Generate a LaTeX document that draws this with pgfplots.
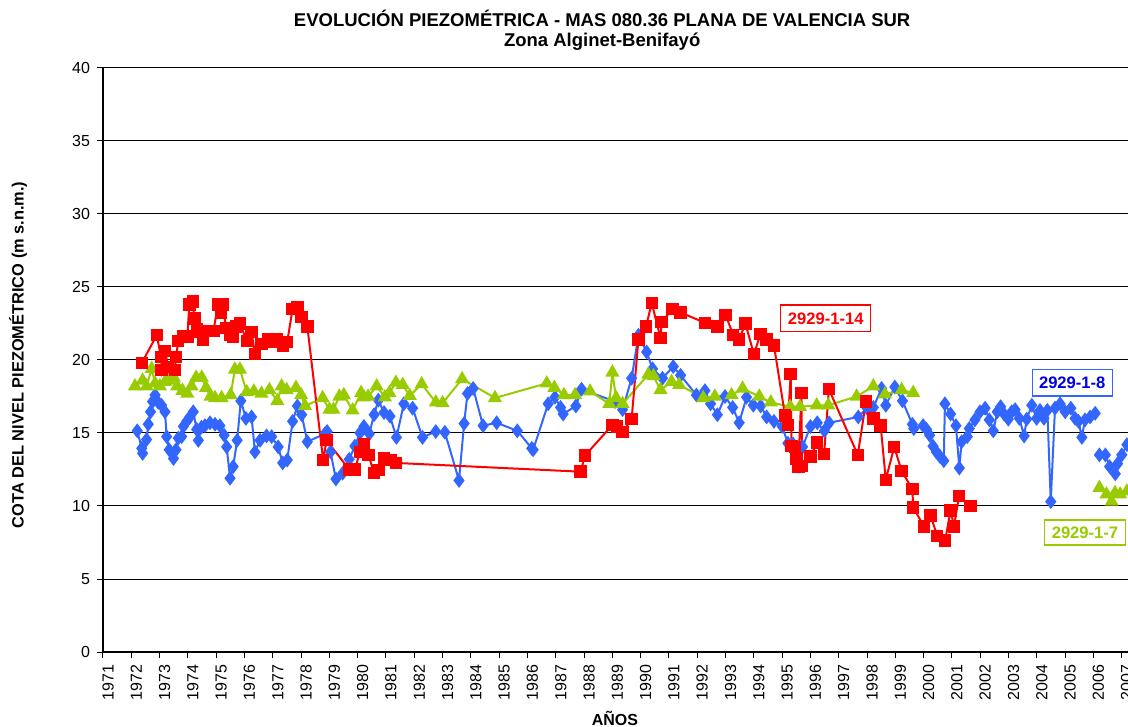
\documentclass[border=0pt]{standalone}
\usepackage{fontspec}
\setmainfont{Liberation Sans}
\usepackage{pgfplots}
\pgfplotsset{compat=1.18}
\usetikzlibrary{calc}
\definecolor{pzred}{RGB}{255,0,0}
\definecolor{pzblue}{RGB}{51,102,255}
\definecolor{pzgreen}{RGB}{153,204,0}
\definecolor{pzdblue}{RGB}{0,0,230}

\begin{document}
\begin{tikzpicture}
\begin{axis}[
  name=ax,
  scale only axis,
  width=512.5pt, height=292pt,
  xmin=1971, xmax=2007.22,
  ymin=0, ymax=40,
  axis lines=left,
  axis line style={-, line width=0.6pt},
  xtick={1971,...,2007},
  ytick={0,5,...,40},
  ymajorgrids,
  grid style={black, line width=0.5pt},
  tick align=outside,
  major tick length=3pt,
  tick style={black, line width=0.5pt},
  xticklabel style={rotate=90, anchor=east, yshift=-2.5pt, font=\fontsize{8}{9}\selectfont},
  yticklabel style={font=\fontsize{8}{9}\selectfont},
  /pgf/number format/1000 sep={},
  /pgf/number format/assume math mode=true,
  xlabel={AÑOS},
  xlabel style={at={(axis description cs:0.4995,-0.113)}, anchor=center, font=\bfseries\fontsize{8}{9}\selectfont},
  ylabel={COTA DEL NIVEL PIEZOMÉTRICO (m s.n.m.)},
  ylabel style={at={(axis description cs:-0.0829,0.5086)}, anchor=center, rotate=0, font=\bfseries\fontsize{8.2}{9}\selectfont},
  unbounded coords=jump,
  clip=true,
]
% 2929-1-8
\addplot[pzblue, line width=1pt, mark=diamond*, mark size=2.9pt, mark options={solid, fill=pzblue, draw=pzblue}] coordinates {
(1972.21,15.15)(1972.37,13.95)(1972.40,13.6)(1972.54,14.55)(1972.60,15.6)(1972.68,16.45)(1972.75,17.15)(1972.84,17.6)(1972.95,17.1)(1973.07,16.9)(1973.19,16.45)(1973.25,14.75)(1973.34,13.85)(1973.49,13.25)(1973.58,13.85)(1973.66,14.65)(1973.78,14.75)(1973.84,15.45)(1973.96,15.8)(1974.07,16.1)(1974.19,16.45)(1974.31,15.25)(1974.37,14.5)(1974.48,15.4)(1974.60,15.5)(1974.78,15.7)(1974.96,15.6)(1975.13,15.5)(1975.28,14.85)(1975.37,14.05)(1975.49,11.9)(1975.60,12.7)(1975.74,14.5)(1975.87,17.2)(1976.05,16.0)(1976.25,16.1)(1976.37,13.7)(1976.55,14.5)(1976.78,14.8)(1976.96,14.75)(1977.19,14.05)(1977.35,12.95)(1977.51,13.15)(1977.70,15.8)(1977.87,16.85)(1978.02,16.25)(1978.22,14.4)(1978.84,14.95)(1978.92,15.1)(1979.04,13.7)(1979.23,11.85)(1979.47,12.25)(1979.70,13.2)(1979.90,14.1)(1980.08,15.0)(1980.22,15.45)(1980.41,14.95)(1980.58,16.25)(1980.73,17.25)(1980.93,16.4)(1981.14,16.15)(1981.37,14.7)(1981.63,17.0)(1981.94,16.7)(1982.29,14.7)(1982.76,15.1)(1983.08,15.05)(1983.58,11.75)(1983.76,15.65)(1983.88,17.7)(1984.08,18.05)(1984.43,15.5)(1984.91,15.7)(1985.64,15.15)(1986.15,13.95)(1986.20,13.85)(1986.73,17.0)(1986.97,17.45)(1987.17,16.75)(1987.26,16.3)(1987.71,16.85)(1987.91,18.0)(1989.09,17.15)(1989.36,16.6)(1989.68,18.75)(1989.92,21.7)(1990.21,20.55)(1990.42,19.4)(1990.77,18.75)(1991.15,19.55)(1991.41,18.95)(1991.97,17.6)(1992.27,17.9)(1992.47,17.0)(1992.71,16.25)(1992.98,17.5)(1993.25,16.75)(1993.48,15.7)(1993.74,17.45)(1993.98,16.9)(1994.24,16.85)(1994.45,16.1)(1994.71,15.8)(1995.00,15.45)(1995.20,14.3)(1995.38,14.25)(1995.56,13.85)(1995.72,14.05)(1996.00,15.45)(1996.24,15.7)(1996.49,15.15)(1996.66,15.7)(1997.69,16.1)(1998.00,16.7)(1998.22,16.75)(1998.51,18.05)(1998.66,16.9)(1998.98,18.15)(1999.25,17.2)(1999.60,15.6)(1999.65,15.3)(1999.98,15.5)(2000.10,15.25)(2000.21,14.85)(2000.33,14.1)(2000.45,13.7)(2000.57,13.4)(2000.71,13.1)(2000.75,17.0)(2000.95,16.3)(2001.14,15.5)(2001.26,12.6)(2001.34,14.4)(2001.54,14.75)(2001.61,15.3)(2001.81,15.9)(2001.99,16.45)(2002.17,16.7)(2002.32,15.9)(2002.46,15.15)(2002.60,16.45)(2002.72,16.8)(2002.84,16.3)(2002.99,15.95)(2003.11,16.45)(2003.23,16.6)(2003.38,16.0)(2003.55,14.8)(2003.64,15.95)(2003.82,16.9)(2003.99,16.0)(2004.11,16.55)(2004.25,16.0)(2004.37,16.55)(2004.49,10.3)(2004.64,16.7)(2004.82,17.0)(2005.00,16.45)(2005.20,16.7)(2005.35,16.0)(2005.47,15.8)(2005.59,14.7)(2005.70,15.9)(2005.88,16.1)(2006.06,16.35)(2006.13,nan)(2006.21,13.5)(2006.42,13.5)(2006.57,12.7)(2006.77,12.2)(2006.85,12.9)(2007.00,13.5)(2007.18,14.2)
};
% 2929-1-7
\addplot[pzgreen, line width=1pt, mark=triangle*, mark size=3.1pt, mark options={solid, fill=pzgreen, draw=pzgreen}] coordinates {
(1972.13,18.2)(1972.40,18.6)(1972.54,18.2)(1972.72,19.4)(1972.84,18.4)(1973.01,18.2)(1973.19,18.5)(1973.30,18.6)(1973.50,18.8)(1973.62,18.2)(1973.81,17.9)(1973.98,17.7)(1974.13,18.2)(1974.29,18.8)(1974.49,18.8)(1974.64,18.1)(1974.80,17.5)(1974.96,17.4)(1975.19,17.4)(1975.51,17.6)(1975.66,19.35)(1975.84,19.35)(1976.08,17.8)(1976.33,17.85)(1976.60,17.7)(1976.88,17.95)(1977.16,17.2)(1977.31,18.2)(1977.49,17.95)(1977.82,18.1)(1978.00,17.6)(1978.14,16.85)(1978.76,17.4)(1979.00,16.6)(1979.14,16.6)(1979.35,17.5)(1979.51,17.6)(1979.82,16.55)(1980.12,17.75)(1980.22,17.45)(1980.37,17.5)(1980.67,18.2)(1980.96,17.45)(1981.12,17.75)(1981.35,18.45)(1981.59,18.3)(1981.84,17.55)(1982.26,18.35)(1982.76,17.1)(1983.00,17.05)(1983.69,18.7)(1984.85,17.4)(1986.68,18.4)(1986.95,18.1)(1987.29,17.6)(1987.68,17.6)(1988.21,17.85)(1988.89,17.0)(1989.00,19.15)(1989.13,17.4)(1989.36,17.0)(1990.27,19.0)(1990.45,18.9)(1990.70,17.95)(1991.09,18.5)(1991.36,18.3)(1992.21,17.4)(1992.62,17.5)(1993.21,17.6)(1993.60,18.05)(1994.19,17.5)(1994.60,17.1)(1995.28,16.8)(1995.63,16.8)(1996.22,16.9)(1996.63,16.9)(1997.63,17.5)(1998.22,18.2)(1998.63,17.65)(1999.22,17.95)(1999.63,17.75)(2003.0,nan)(2006.21,11.25)(2006.46,10.8)(2006.64,10.3)(2006.76,10.9)(2006.94,10.8)(2007.18,11.0)
};
% 2929-1-14
\addplot[pzred, line width=1pt, mark=square*, mark size=2.6pt, mark options={solid, fill=pzred, draw=pzred}] coordinates {
(1972.37,19.8)(1972.90,21.7)(1973.05,20.2)(1973.07,19.3)(1973.20,20.6)(1973.30,19.5)(1973.54,19.3)(1973.58,20.2)(1973.66,21.3)(1973.84,21.6)(1973.98,21.6)(1974.05,23.8)(1974.17,24.0)(1974.23,22.85)(1974.33,22.1)(1974.43,21.9)(1974.54,21.4)(1974.66,22.0)(1974.90,22.0)(1975.07,23.8)(1975.16,23.2)(1975.23,23.8)(1975.35,22.2)(1975.49,21.7)(1975.60,21.6)(1975.70,22.3)(1975.84,22.5)(1976.08,21.3)(1976.25,21.9)(1976.37,20.4)(1976.60,21.1)(1976.84,21.4)(1977.00,21.25)(1977.13,21.4)(1977.35,21.0)(1977.51,21.25)(1977.70,23.5)(1977.87,23.6)(1978.02,22.95)(1978.22,22.3)(1978.78,13.15)(1978.90,14.5)(1979.70,12.5)(1979.90,12.5)(1980.08,13.7)(1980.22,14.25)(1980.38,13.5)(1980.58,12.25)(1980.73,12.45)(1980.93,13.25)(1981.17,13.15)(1981.35,12.95)(1987.88,12.35)(1988.03,13.45)(1989.00,15.55)(1989.17,15.45)(1989.36,15.05)(1989.68,15.95)(1989.92,21.4)(1990.19,22.3)(1990.39,23.9)(1990.70,21.5)(1990.74,22.6)(1991.13,23.5)(1991.41,23.25)(1992.27,22.55)(1992.71,22.3)(1993.00,23.1)(1993.27,21.7)(1993.48,21.4)(1993.70,22.5)(1994.00,20.4)(1994.24,21.8)(1994.45,21.4)(1994.71,21.0)(1995.10,16.2)(1995.20,15.55)(1995.30,19.05)(1995.33,14.1)(1995.45,14.05)(1995.50,13.25)(1995.57,12.7)(1995.68,17.75)(1995.70,12.75)(1996.00,13.4)(1996.24,14.35)(1996.48,13.55)(1996.65,18.0)(1997.67,13.5)(1997.96,17.15)(1998.22,16.0)(1998.48,15.5)(1998.66,11.8)(1998.96,14.05)(1999.22,12.4)(1999.60,11.15)(1999.63,9.9)(2000.01,8.6)(2000.24,9.35)(2000.48,7.95)(2000.76,7.65)(2000.95,9.7)(2001.07,8.6)(2001.25,10.7)(2001.66,10.0)
};
\node[draw=pzred, fill=white, text=pzred, line width=0.6pt, font=\bfseries\fontsize{8.3}{9}\selectfont, minimum width=45pt, minimum height=13.3pt, inner sep=1pt] at (axis cs:1996.54,22.85) {2929-1-14};
\node[draw=pzblue, fill=white, text=pzdblue, line width=0.6pt, font=\bfseries\fontsize{8.3}{9}\selectfont, minimum width=40pt, minimum height=13.3pt, inner sep=1pt] at (axis cs:2005.25,18.45) {2929-1-8};
\node[draw=pzgreen, fill=white, text=pzgreen, line width=0.6pt, font=\bfseries\fontsize{8.3}{9}\selectfont, minimum width=40.5pt, minimum height=12.5pt, inner sep=1pt] at (axis cs:2005.70,8.18) {2929-1-7};
\coordinate (t1) at (axis description cs:0.487,1.0856);
\coordinate (t2) at (axis description cs:0.487,1.0445);
\end{axis}
\node[font=\bfseries\fontsize{9.25}{11}\selectfont] at (t1) {EVOLUCIÓN PIEZOMÉTRICA - MAS 080.36 PLANA DE VALENCIA SUR};
\node[font=\bfseries\fontsize{9.25}{11}\selectfont] at (t2) {Zona Alginet-Benifayó};
\pgfresetboundingbox
\path ($(ax.south west)+(-51.5pt,-37.5pt)$) rectangle ($(ax.north east)+(0pt,34pt)$);
\end{tikzpicture}
\end{document}
